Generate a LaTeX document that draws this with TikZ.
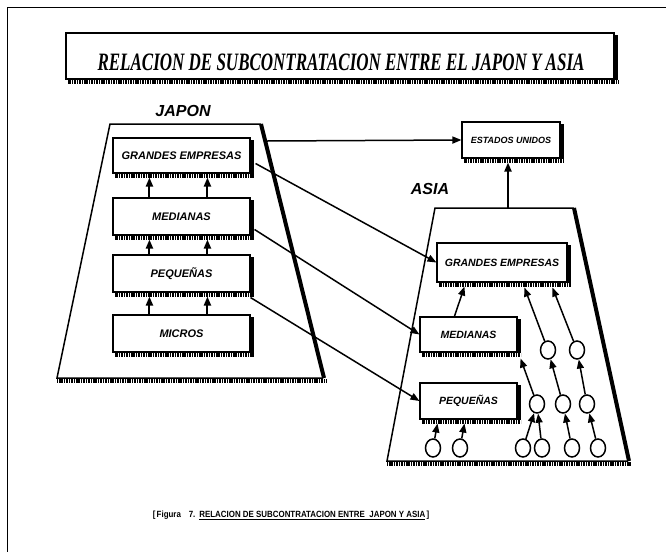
\documentclass[tikz,border=0pt]{standalone}
\usepackage{fontspec}
\setmainfont{Liberation Serif}
\newfontfamily\lsans{Liberation Sans}
\usetikzlibrary{arrows.meta,shapes.geometric,calc}
\begin{document}
\begin{tikzpicture}[x=1pt,y=-1pt,
  conn/.style={line width=1.5pt,-{Triangle[length=9pt,width=7pt]}},
  connj/.style={conn,line width=2pt},
  box/.style={draw,line width=1.1pt,fill=white,inner sep=0pt,font=\lsans\bfseries\itshape\fontsize{11}{11}\selectfont},
  boxa/.style={box,font=\lsans\bfseries\itshape\fontsize{10.5}{10.5}\selectfont},
  circ/.style={draw,ellipse,line width=1.5pt,minimum width=15pt,minimum height=18pt,inner sep=0pt,fill=white},
  band/.style={line width=3.5pt,dash pattern=on 1.1pt off 0.6pt},
  trap/.style={line width=1.5pt},
  trapr/.style={line width=4pt},
  lbl/.style={font=\lsans\bfseries\itshape\fontsize{16}{16}\selectfont}]
\useasboundingbox (0,0) rectangle (666,552);
% outer frame (top and left)
\draw[line width=1pt] (666,7) -- (7,7) -- (7,552);
% title
\node[draw,line width=1.2pt,minimum width=548pt,minimum height=46pt,inner sep=0pt] (tbox) at (340,56) {};
\fill ($(tbox.north east)+(0,3)$) rectangle ($(tbox.south east)+(3.5,0)$);
\draw[band] ($(tbox.south west)+(3,2.2)$) -- ($(tbox.south east)+(3.5,2.2)$);
\node (ttl) at (341,62) {\fontsize{25}{25}\selectfont\bfseries\itshape\scalebox{0.68}[1]{RELACION DE SUBCONTRATACION ENTRE EL JAPON Y ASIA}};
% trapezoids
\draw[trap] (261,124) -- (110,124) -- (57,378) -- (323,378);
\draw[trapr] (261,124) -- (324,378);
\draw[band] (57,381) -- (326,381);
\draw[trap] (574,208) -- (435,208) -- (387,461) -- (628,461);
\draw[trapr] (574,208) -- (629,461);
\draw[band] (387,464) -- (631,464);
% labels
\node[lbl] (japon) at (183,111) {JAPON};
\node[lbl] (asia) at (430,189) {ASIA};
% boxes
\node[box,minimum width=137pt,minimum height=35pt] (grJ) at (181.5,155.5) {GRANDES EMPRESAS};
\node[box,minimum width=137pt,minimum height=37pt] (medJ) at (181.5,216.5) {MEDIANAS};
\node[box,minimum width=137pt,minimum height=37pt] (peqJ) at (181.5,273.5) {PEQUEÑAS};
\node[box,minimum width=137pt,minimum height=37pt] (micJ) at (181.5,333.5) {MICROS};
\node[box,minimum width=98pt,minimum height=36pt,font=\lsans\bfseries\itshape\fontsize{9}{9}\selectfont] (us) at (511,140) {ESTADOS UNIDOS};
\node[boxa,minimum width=130pt,minimum height=39pt] (grA) at (502,262.5) {GRANDES EMPRESAS};
\node[boxa,minimum width=97pt,minimum height=35pt] (medA) at (468.5,334.5) {MEDIANAS};
\node[boxa,minimum width=97pt,minimum height=36pt] (peqA) at (468.5,401) {PEQUEÑAS};
\foreach \n in {grJ,medJ,peqJ,micJ,us,grA,medA,peqA}{
  \fill ($(\n.north east)+(0,3)$) rectangle ($(\n.south east)+(3.5,0)$);
  \draw[band] ($(\n.south west)+(3,2.2)$) -- ($(\n.south east)+(3.5,2.2)$);
}
% circles
\foreach \nm/\px/\py in {b1/433/448,b2/460/448,b3/523/448,b4/542/448,b5/572/448,b6/598/448,m1/537/404,m2/563/404,m3/587/404,t1/548/350,t2/577/350}{
  \node[circ] (\nm) at (\px,\py) {};
}
% japan internal arrows
\foreach \lo/\up in {medJ/grJ,peqJ/medJ,micJ/peqJ}{
  \draw[connj] ($(\lo.north west)+(37,0)$) -- ($(\up.south west)+(37,4)$);
  \draw[connj] ($(\lo.north west)+(95,0)$) -- ($(\up.south west)+(95,4)$);
}
% japan to US and US to Asia
\coordinate (jout) at (267,141);
\coordinate (atop) at (508,208);
\draw[conn] (jout) -- (us.west);
\draw[connj] (atop) -- ($(us.south)+(-3,4)$);
% japan to asia
\draw[conn] ($(grJ.east)+(5,8)$) -- (grA.west);
\draw[conn] ($(medJ.east)+(4,13)$) -- (medA.west);
\draw[conn] ($(peqJ.south east)+(0,5)$) -- (peqA.west);
% asia internal
\draw[conn] ($(medA.north west)+(35,0)$) -- ($(grA.south west)+(28,4)$);
\draw[conn] (b1) -- ($(peqA.south west)+(18,4)$);
\draw[conn] (b2) -- ($(peqA.south west)+(45,4)$);
\draw[conn] (b3) -- (m1);
\draw[conn] (b4) -- (m1);
\draw[conn] (b5) -- (m2);
\draw[conn] (b6) -- (m3);
\draw[conn] (m1) -- ($(medA.south east)+(3,6)$);
\draw[conn] (m2) -- (t1);
\draw[conn] (m3) -- (t2);
\draw[conn] (t1) -- ($(grA.south west)+(88,5)$);
\draw[conn] (t2) -- ($(grA.south west)+(116,5)$);
% caption
\node (cap) at (291,515) {\lsans\bfseries\fontsize{9}{9}\selectfont\scalebox{0.88}[1]{[\,Figura\quad 7.\enspace\underline{RELACION DE SUBCONTRATACION ENTRE\ \ JAPON Y ASIA}\,]}};
\end{tikzpicture}
\end{document}
